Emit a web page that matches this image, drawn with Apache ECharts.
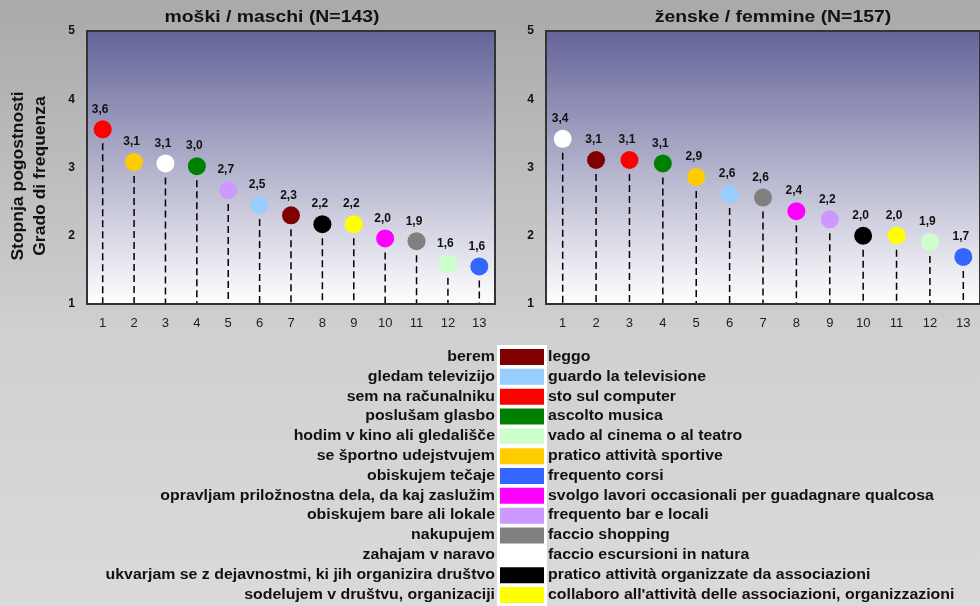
<!DOCTYPE html>
<html>
<head>
<meta charset="utf-8">
<script src="https://cdn.jsdelivr.net/npm/echarts@6/dist/echarts.min.js"></script>
<style>
  html, body { margin: 0; padding: 0; }
  #main { width: 980px; height: 606px; }
</style>
</head>
<body>
<div id="main"></div>
<script>
// categories on x axis
var categories = ['1', '2', '3', '4', '5', '6', '7', '8', '9', '10', '11', '12', '13'];

// activities (slovensko / italiano) and their colours
var activitiesSl = ['berem', 'gledam televizijo', 'sem na računalniku', 'poslušam glasbo',
  'hodim v kino ali gledališče', 'se športno udejstvujem', 'obiskujem tečaje',
  'opravljam priložnostna dela, da kaj zaslužim', 'obiskujem bare ali lokale', 'nakupujem',
  'zahajam v naravo', 'ukvarjam se z dejavnostmi, ki jih organizira društvo',
  'sodelujem v društvu, organizaciji'];
var activitiesIt = ['leggo', 'guardo la televisione', 'sto sul computer', 'ascolto musica',
  'vado al cinema o al teatro', 'pratico attività sportive', 'frequento corsi',
  'svolgo lavori occasionali per guadagnare qualcosa', 'frequento bar e locali', 'faccio shopping',
  'faccio escursioni in natura', 'pratico attività organizzate da associazioni',
  "collaboro all'attività delle associazioni, organizzazioni"];
var activityColors = ['#800000', '#99CCFF', '#FF0000', '#008000', '#CCFFCC', '#FFCC00', '#3366FF',
  '#FF00FF', '#CC99FF', '#808080', '#FFFFFF', '#000000', '#FFFF00'];

// moški / maschi
var maleOrder = [2, 5, 10, 3, 8, 1, 0, 11, 12, 7, 9, 4, 6];
var maleValues = [3.56, 3.08, 3.06, 3.02, 2.67, 2.45, 2.30, 2.17, 2.17, 1.96, 1.92, 1.59, 1.55];

// ženske / femmine
var femaleOrder = [10, 0, 2, 3, 5, 1, 9, 7, 8, 11, 12, 4, 6];
var femaleValues = [3.42, 3.11, 3.11, 3.06, 2.86, 2.61, 2.56, 2.36, 2.24, 2.00, 2.00, 1.91, 1.69];

var FONT = '"Liberation Sans", Arial, sans-serif';
var INK = '#111';

var chart = echarts.init(document.getElementById('main'));

function plotBg() {
  return {
    type: 'linear', x: 0, y: 0, x2: 0, y2: 1,
    colorStops: [{ offset: 0, color: '#646499' }, { offset: 1, color: '#ffffff' }]
  };
}

function xAx(gi) {
  return {
    type: 'category', gridIndex: gi, data: categories, boundaryGap: true,
    axisLine: { show: false }, axisTick: { show: false },
    axisLabel: { fontFamily: FONT, fontSize: 13, color: '#222', margin: 13 }
  };
}

function yAx(gi) {
  return {
    type: 'value', gridIndex: gi, min: 1, max: 5, interval: 1,
    axisLine: { show: false }, axisTick: { show: false }, splitLine: { show: false },
    axisLabel: { fontFamily: FONT, fontSize: 12, fontWeight: 'bold', color: INK, margin: 12 }
  };
}

function fmt(v) {
  return (Math.round(v * 10) / 10).toFixed(1).replace('.', ',');
}

function dotSeries(gi, order, values) {
  return {
    type: 'scatter', xAxisIndex: gi, yAxisIndex: gi, symbolSize: 18, z: 3,
    data: values.map(function (v, i) {
      return { value: v, itemStyle: { color: activityColors[order[i]], opacity: 1 } };
    }),
    label: {
      show: true, position: 'top', distance: 5, offset: [-2.5, 0],
      fontFamily: FONT, fontSize: 12, fontWeight: 'bold', color: INK,
      formatter: function (p) { return fmt(p.value); }
    }
  };
}

// dashed stems from each dot down to the bottom axis
function stemSeries(gi, values) {
  return {
    type: 'custom', xAxisIndex: gi, yAxisIndex: gi, silent: true, z: 2,
    data: values.map(function (v, i) { return [i, v]; }),
    renderItem: function (params, api) {
      var top = api.coord([api.value(0), api.value(1)]);
      var bottom = api.coord([api.value(0), 1]);
      return {
        type: 'line',
        shape: { x1: top[0], y1: top[1] + 14, x2: bottom[0], y2: bottom[1] - 1 },
        style: { stroke: '#000', lineWidth: 1.5, lineDash: [7, 4] }
      };
    }
  };
}

function label(x, y, text, size, align, sx, rot) {
  return {
    type: 'text', x: x, y: y, scaleX: sx || 1, rotation: rot || 0,
    style: { text: text, font: 'bold ' + size + 'px ' + FONT, fill: INK, align: align, verticalAlign: 'middle' }
  };
}

// texts: titles, y name, legend table
var graphics = [
  label(272, 17, 'moški / maschi (N=143)', 17, 'center', 1.14),
  label(773, 17, 'ženske / femmine (N=157)', 17, 'center', 1.14),
  label(18, 176, 'Stopnja pogostnosti', 17, 'center', 1.03, Math.PI / 2),
  label(40, 176, 'Grado di frequenza', 17, 'center', 1.03, Math.PI / 2),
  { type: 'rect', shape: { x: 497, y: 345, width: 50, height: 270 }, style: { fill: '#ffffff' } }
];
for (var i = 0; i < activitiesSl.length; i++) {
  var cy = 357 + i * 19.83;
  graphics.push(label(495, cy, activitiesSl[i], 14, 'right', 1.135));
  graphics.push({ type: 'rect', shape: { x: 500, y: cy - 8, width: 44, height: 16 }, style: { fill: activityColors[i] } });
  graphics.push(label(548, cy, activitiesIt[i], 14, 'left', 1.135));
}

var option = {
  animation: false,
  backgroundColor: {
    type: 'linear', x: 0, y: 0, x2: 0, y2: 1,
    colorStops: [{ offset: 0, color: '#a9a9a9' }, { offset: 0.55, color: '#d0d0d0' }, { offset: 1, color: '#dadada' }]
  },
  grid: [
    { left: 87, top: 31, width: 408, height: 273, show: true, backgroundColor: plotBg(), borderColor: '#333', borderWidth: 2 },
    { left: 546, top: 31, width: 437, height: 273, show: true, backgroundColor: plotBg(), borderColor: '#333', borderWidth: 2 }
  ],
  xAxis: [xAx(0), xAx(1)],
  yAxis: [yAx(0), yAx(1)],
  series: [
    stemSeries(0, maleValues), dotSeries(0, maleOrder, maleValues),
    stemSeries(1, femaleValues), dotSeries(1, femaleOrder, femaleValues)
  ],
  graphic: graphics
};

chart.setOption(option);
</script>
</body>
</html>
